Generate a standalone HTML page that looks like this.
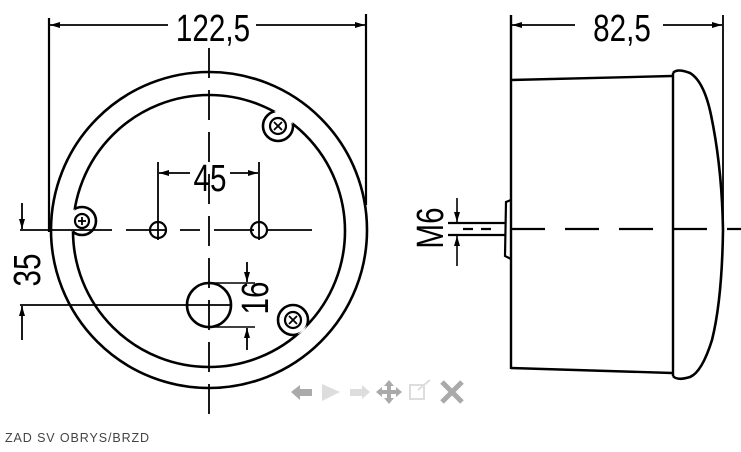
<!DOCTYPE html>
<html><head><meta charset="utf-8"><style>
html,body{margin:0;padding:0;background:#fff;width:741px;height:452px;overflow:hidden}
svg{display:block}
text{font-family:"Liberation Sans",sans-serif;fill:#000}
</style></head><body>
<svg width="741" height="452" viewBox="0 0 741 452" xmlns="http://www.w3.org/2000/svg">
<defs>
<marker id="a" viewBox="0 0 10 6" refX="10" refY="3" markerWidth="10" markerHeight="6" orient="auto" markerUnits="userSpaceOnUse"><path d="M0,0L10,3L0,6z" fill="#000"/></marker>
<mask id="mIn"><rect width="741" height="452" fill="#fff"/><circle cx="82" cy="221" r="14" fill="#000"/><circle cx="278" cy="126" r="15" fill="#000"/><circle cx="293" cy="320" r="15" fill="#000"/></mask>
<mask id="mBoss"><rect width="741" height="452" fill="#000"/><circle cx="209" cy="231" r="136" fill="#fff"/></mask>
</defs>
<g stroke="#000" fill="none" stroke-width="2.2">
<line x1="49" y1="18" x2="49" y2="232"/>
<line x1="366" y1="14" x2="366" y2="205"/>
<line x1="168" y1="25" x2="50" y2="25" marker-end="url(#a)" stroke-width="1.8"/>
<line x1="256" y1="25" x2="365" y2="25" marker-end="url(#a)" stroke-width="1.8"/>
<circle cx="209" cy="230" r="158" stroke-width="2.6"/>
<circle cx="209" cy="231" r="136" stroke-width="2.6" mask="url(#mIn)"/>
<g mask="url(#mBoss)" stroke-width="2.6">
<circle cx="82" cy="221" r="14"/><circle cx="278" cy="126" r="15"/><circle cx="293" cy="320" r="15"/>
</g>
<circle cx="82" cy="221" r="7"/><circle cx="278" cy="126" r="8"/><circle cx="293" cy="320" r="8"/>
<g stroke-width="1.8"><line x1="78" y1="221" x2="86" y2="221"/><line x1="82" y1="217" x2="82" y2="225"/>
<line x1="274" y1="122" x2="282" y2="130"/><line x1="274" y1="130" x2="282" y2="122"/>
<line x1="289" y1="316" x2="297" y2="324"/><line x1="289" y1="324" x2="297" y2="316"/></g>
<line x1="209" y1="48" x2="209" y2="420" stroke-dasharray="30,12" stroke-width="1.8"/>
<line x1="20" y1="230" x2="312" y2="230" stroke-width="1.8" stroke-dasharray="92,14,40,14,20,14,40,14,80"/>
<circle cx="158" cy="230" r="8"/><circle cx="259" cy="230" r="8"/>
<line x1="158" y1="162" x2="158" y2="240" stroke-width="1.8"/>
<line x1="259" y1="162" x2="259" y2="240" stroke-width="1.8"/>
<line x1="190" y1="173" x2="159" y2="173" marker-end="url(#a)" stroke-width="1.8"/>
<line x1="230" y1="173" x2="258" y2="173" marker-end="url(#a)" stroke-width="1.8"/>
<circle cx="209" cy="305" r="22" stroke-width="2.6"/>
<line x1="20" y1="305" x2="230" y2="305" stroke-width="1.8"/>
<line x1="209" y1="283" x2="255" y2="283" stroke-width="1.6"/>
<line x1="209" y1="327" x2="255" y2="327" stroke-width="1.6"/>
<line x1="247" y1="262" x2="247" y2="282" marker-end="url(#a)" stroke-width="1.8"/>
<line x1="247" y1="350" x2="247" y2="328" marker-end="url(#a)" stroke-width="1.8"/>
<line x1="22" y1="203" x2="22" y2="229" marker-end="url(#a)" stroke-width="1.8"/>
<line x1="22" y1="340" x2="22" y2="306" marker-end="url(#a)" stroke-width="1.8"/>
<line x1="511" y1="15" x2="511" y2="369" stroke-width="2.4"/>
<line x1="723" y1="15" x2="723" y2="232" stroke-width="1.8"/>
<line x1="575" y1="25" x2="512" y2="25" marker-end="url(#a)" stroke-width="1.8"/>
<line x1="663" y1="25" x2="722" y2="25" marker-end="url(#a)" stroke-width="1.8"/>
<line x1="511" y1="80" x2="672" y2="76" stroke-width="2.4"/>
<line x1="511" y1="368" x2="672" y2="373" stroke-width="2.4"/>
<line x1="673" y1="73" x2="673" y2="376" stroke-width="2.4"/>
<path d="M673,73 Q677,68 690,73 Q705,82 712,120 Q722,170 723,230 Q722,300 712,340 Q702,372 690,377 Q677,381 673,376" stroke-width="2.6"/>
<path d="M511,200 L506,202 L505,256 L511,259" stroke-width="2.2"/>
<line x1="448" y1="223" x2="505" y2="223" stroke-width="2.2"/>
<line x1="448" y1="235" x2="505" y2="235" stroke-width="2.2"/>
<line x1="463" y1="229" x2="741" y2="229" stroke-width="2.2" stroke-dasharray="10,8,10,20,34,20,34,20,34,20,34,20,34,20,34,20"/>
<line x1="457" y1="198" x2="457" y2="222" marker-end="url(#a)" stroke-width="1.6"/>
<line x1="457" y1="266" x2="457" y2="236" marker-end="url(#a)" stroke-width="1.6"/>
</g>
<g font-size="38">
<text x="213" y="41" text-anchor="middle" transform="translate(213,0) scale(0.78,1) translate(-213,0)">122,5</text>
<text x="210" y="191" text-anchor="middle" transform="translate(210,0) scale(0.78,1) translate(-210,0)">45</text>
<text x="622" y="41" text-anchor="middle" transform="translate(622,0) scale(0.78,1) translate(-622,0)">82,5</text>
<text transform="translate(40,270) rotate(-90) scale(0.78,1)" text-anchor="middle">35</text>
<text transform="translate(268,298) rotate(-90) scale(0.78,1)" text-anchor="middle">16</text>
<text transform="translate(443,228) rotate(-90) scale(0.78,1)" text-anchor="middle">M6</text>
</g>
<g fill="#aaa">
<path d="M291,392 L300,385 L300,389 L312,389 L312,396 L300,396 L300,400 Z"/>
<path d="M322,384 L340,392 L322,401 Z" fill="#ddd"/>
<path d="M350,389 L362,389 L362,385 L370,392 L362,399 L362,396 L350,396 Z" fill="#ddd"/>
<path d="M389,380 L394,386 L391,386 L391,390 L396,390 L396,387 L402,392 L396,397 L396,394 L391,394 L391,398 L394,398 L389,404 L384,398 L387,398 L387,394 L382,394 L382,397 L376,392 L382,387 L382,390 L387,390 L387,386 L384,386 Z"/>
</g>
<rect x="410" y="385" width="14" height="14" fill="none" stroke="#ddd" stroke-width="2"/>
<path d="M418,390 L430,380" stroke="#ddd" stroke-width="2"/>
<path d="M442,382 L462,402 M462,382 L442,402" stroke="#aaa" stroke-width="5"/>
<text x="5" y="442" font-size="12.5" letter-spacing="0.9" style="fill:#444">ZAD SV OBRYS/BRZD</text>
</svg>
</body></html>
